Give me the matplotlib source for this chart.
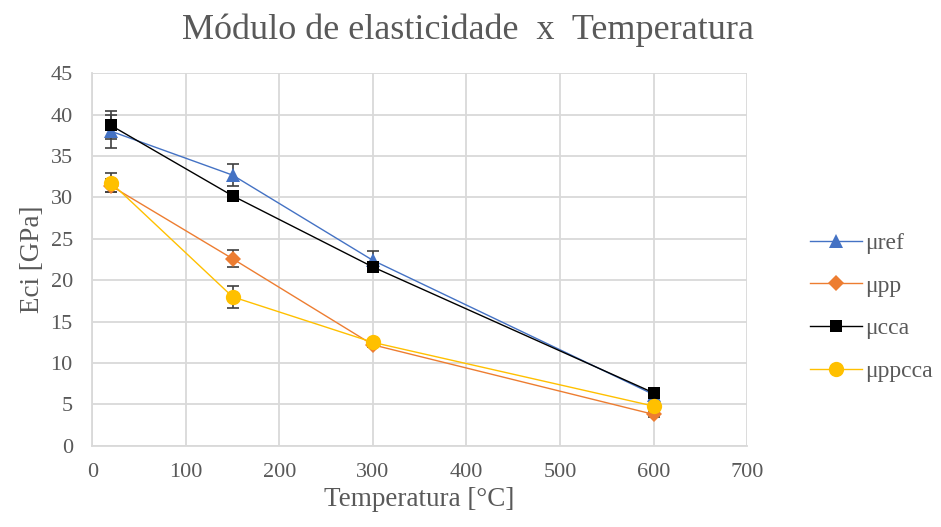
import numpy as np
import matplotlib.pyplot as plt

# temperatures and elastic modulus per mix
temperatura = [20, 150, 300, 600]
series = ['μref', 'μpp', 'μcca', 'μppcca']
eci_ref = [38.0, 32.7, 22.4, 6.2]
eci_pp = [31.4, 22.6, 12.2, 3.8]
eci_cca = [38.7, 30.2, 21.6, 6.4]
eci_ppcca = [31.8, 18.0, 12.5, 4.8]
err_ref = [2.0, 1.3, 1.1, 0.3]
err_pp = [0.8, 1.0, 0.3, 0.3]
err_cca = [1.7, 0.5, 0.4, 0.2]
err_ppcca = [1.2, 1.3, 0.3, 0.3]

plt.rcParams['font.family'] = ['Liberation Serif', 'DejaVu Serif']
txt = '#595959'
grid = '#d9d9d9'

fig = plt.figure(figsize=(9.41, 5.27), dpi=100)
ax = fig.add_axes([0.098, 0.154, 0.696, 0.707])

styles = [
    (eci_ref, err_ref, '#4472C4', '^', 10),
    (eci_pp, err_pp, '#ED7D31', 'D', 8),
    (eci_cca, err_cca, '#000000', 's', 9),
    (eci_ppcca, err_ppcca, '#FFC000', 'o', 11),
]
for name, (y, e, c, m, ms) in zip(series, styles):
    ax.errorbar(temperatura, y, yerr=e, fmt='none', ecolor='#404040',
                elinewidth=1.2, capsize=4, capthick=1.2, zorder=2)
    ax.plot(temperatura, y, color=c, lw=1.0, marker=m, ms=ms,
            markeredgewidth=0, label=name, zorder=3)

ax.set_xlim(0, 700)
ax.set_ylim(0, 45)
ax.set_xticks(np.arange(0, 701, 100))
ax.set_yticks(np.arange(0, 46, 5))
ax.grid(True, color=grid, lw=1.3)
ax.set_axisbelow(True)
for s in ['top', 'right']:
    ax.spines[s].set_visible(False)
for s in ['left', 'bottom']:
    ax.spines[s].set_color(grid)
    ax.spines[s].set_linewidth(1.3)
ax.tick_params(length=0, labelsize=16, colors=txt)
ax.tick_params(axis='y', pad=14)
ax.tick_params(axis='x', pad=12)

ax.set_xlabel('Temperatura [°C]', fontsize=19.5, color=txt, labelpad=4)
ax.set_ylabel('Eci [GPa]', fontsize=19.5, color=txt, labelpad=4)
fig.suptitle('Módulo de elasticidade  x  Temperatura', fontsize=26, color=txt,
             x=0.497, y=0.975)

leg = ax.legend(loc='center left', bbox_to_anchor=(1.063, 0.372), frameon=False,
                fontsize=17, labelcolor=txt, handlelength=2.2,
                labelspacing=0.9, handletextpad=0.15)

fig.savefig('out.png', dpi=100)
